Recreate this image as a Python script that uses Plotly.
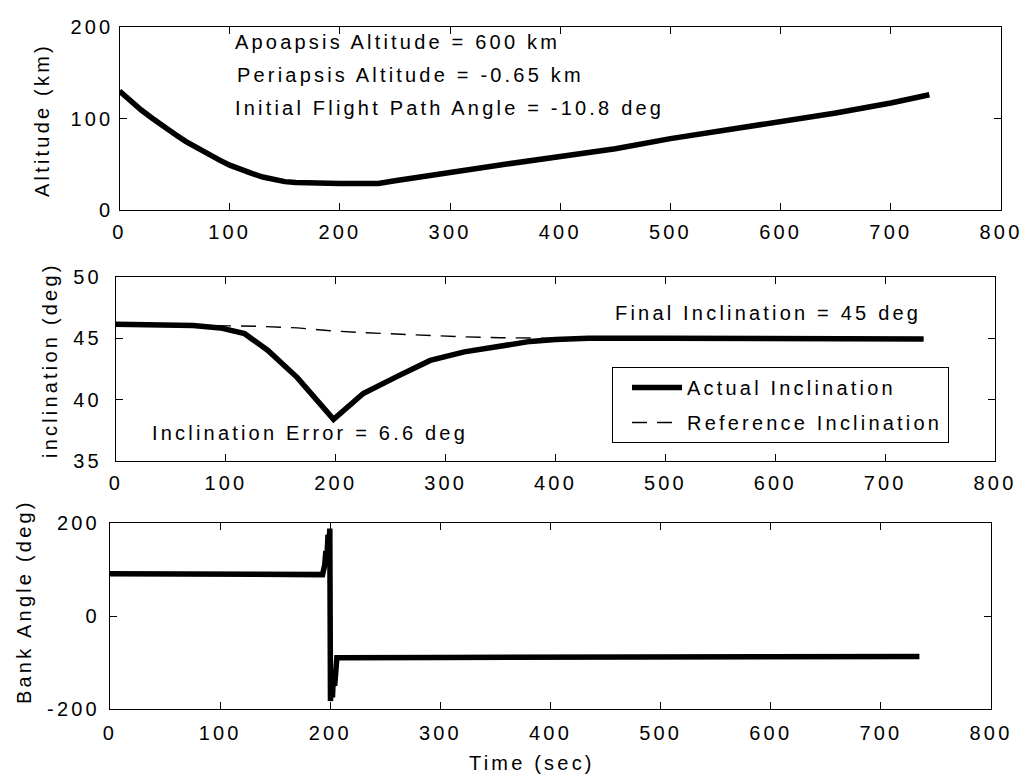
import plotly.graph_objects as go

# ---- data -------------------------------------------------------------
# Altitude history
alt_time = [0, 10, 20, 30, 40, 50, 60, 70, 80, 90, 100, 110, 120, 130, 140, 150,
            160, 180, 200, 220, 235, 250, 270, 300, 350, 400, 450, 500, 550, 600,
            650, 700, 735]
alt_km = [130, 119, 109, 100, 91, 83, 75, 68, 61, 55, 49, 44, 40, 36, 33, 31,
          30, 29, 29, 29, 29, 32, 35, 41, 50, 58, 67, 78, 87, 96, 106, 117, 126]

# Inclination history
inc_time = [0, 50, 70, 95, 117, 138, 165, 198, 225, 256, 286, 317, 347, 377,
            400, 430, 500, 600, 700, 735]
inc_actual = [46.15, 46.1, 46.05, 45.85, 45.38, 44.03, 41.8, 38.4, 40.5, 41.9,
              43.2, 43.9, 44.37, 44.75, 44.9, 45.0, 45.0, 44.98, 44.96, 44.95]

ref_time = [0, 100, 130, 165, 195, 225, 255, 285, 315, 350, 400, 735]
inc_reference = [46.15, 46.05, 45.98, 45.85, 45.62, 45.46, 45.34, 45.22, 45.13,
                 45.05, 45.0, 44.95]

# Bank angle history
bank_time = [0, 100, 193, 195, 196, 197, 198, 199, 199.6, 200.2, 201, 202, 203,
             204, 206, 300, 500, 735]
bank_deg = [91, 90, 89, 110, 140, 125, 175, 150, 188, -183, -130, -175, -120,
            -150, -90, -89, -88, -87]

time_ticks = [0, 100, 200, 300, 400, 500, 600, 700, 800]
alt_ticks = [0, 100, 200]
inc_ticks = [35, 40, 45, 50]
bank_ticks = [-200, 0, 200]

# ---- styling helpers --------------------------------------------------
W, H = 1025, 780
FONT = "Liberation Sans, Arial, Helvetica, sans-serif"
FSIZE = 20
SPACING = 3.2


def spaced(s):
    return f'<span style="letter-spacing:{SPACING}px">{s}</span>'


def xdom(left, right):
    return [left / W, right / W]


def ydom(top, bottom):
    return [1 - bottom / H, 1 - top / H]


def axis(domain, anchor, rng, ticks, standoff):
    return dict(
        domain=domain, anchor=anchor, range=rng, automargin=False,
        showline=True, linecolor="black", linewidth=1.2, mirror="ticks",
        ticks="inside", ticklen=7, tickwidth=1.2, tickcolor="black",
        showgrid=False, zeroline=False,
        tickmode="array", tickvals=ticks, ticktext=[spaced(str(v)) for v in ticks],
        tickfont=dict(family=FONT, size=FSIZE, color="black"),
        ticklabelstandoff=standoff,
    )


fig = go.Figure()

thick = dict(color="black", width=5.5)

fig.add_trace(go.Scatter(x=alt_time, y=alt_km, mode="lines", line=thick,
                         xaxis="x", yaxis="y", showlegend=False))

fig.add_trace(go.Scatter(x=ref_time, y=inc_reference, mode="lines",
                         line=dict(color="black", width=1.4, dash="15px,10px"),
                         name=spaced("Reference Inclination"),
                         legendgroup="ref", legendrank=2,
                         xaxis="x2", yaxis="y2"))
fig.add_trace(go.Scatter(x=inc_time, y=inc_actual, mode="lines", line=thick,
                         name=spaced("Actual Inclination"),
                         legendgroup="act", legendrank=1,
                         xaxis="x2", yaxis="y2"))

fig.add_trace(go.Scatter(x=bank_time, y=bank_deg, mode="lines",
                         line=dict(color="black", width=5.5),
                         xaxis="x3", yaxis="y3", showlegend=False))

fig.update_layout(
    template="none",
    width=W, height=H,
    margin=dict(l=0, r=0, t=0, b=0, pad=0),
    paper_bgcolor="white", plot_bgcolor="white",
    font=dict(family=FONT, size=FSIZE, color="black"),
    xaxis=axis(xdom(119.5, 1001), "y", [0, 800], time_ticks, 4),
    yaxis=axis(ydom(27, 210), "x", [0, 200], alt_ticks, 1),
    xaxis2=axis(xdom(116, 995), "y2", [0, 800], time_ticks, 4),
    yaxis2=axis(ydom(277, 461), "x2", [35, 50], inc_ticks, 9),
    xaxis3=axis(xdom(110, 991), "y3", [0, 800], time_ticks, 6),
    yaxis3=axis(ydom(523, 709), "x3", [-200, 200], bank_ticks, 5),
    legend=dict(
        x=612 / W, y=1 - 367 / H, xanchor="left", yanchor="top",
        bordercolor="black", borderwidth=1, bgcolor="white",
        font=dict(family=FONT, size=FSIZE, color="black"),
        tracegroupgap=6, itemwidth=50, indentation=14,
    ),
)


def label(text, px, py, anchor="left", angle=0):
    fig.add_annotation(
        text=spaced(text), xref="paper", yref="paper",
        x=px / W, y=1 - py / H, xanchor=anchor, yanchor="middle",
        showarrow=False, textangle=angle,
        font=dict(family=FONT, size=FSIZE, color="black"),
    )


label("Apoapsis Altitude = 600 km", 233, 42)
label("Periapsis Altitude = -0.65 km", 235, 75)
label("Initial Flight Path Angle = -10.8 deg", 233, 108)
label("Final Inclination = 45 deg", 613, 313)
label("Inclination Error = 6.6 deg", 150, 433)

label("Altitude (km)", 42, 120, anchor="center", angle=-90)
label("inclination (deg)", 50, 360, anchor="center", angle=-90)
label("Bank Angle (deg)", 24, 602, anchor="center", angle=-90)
label("Time (sec)", 532, 763, anchor="center")

fig.write_html("out.html")
